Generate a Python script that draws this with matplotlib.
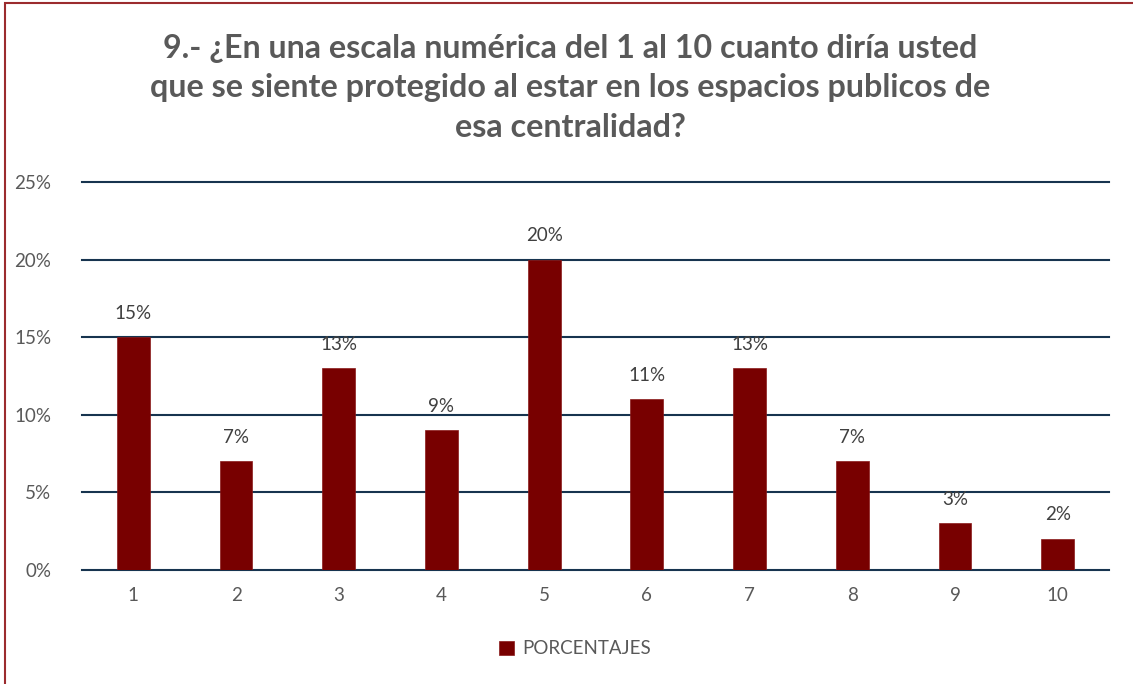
import matplotlib
matplotlib.use("Agg")
import matplotlib.pyplot as plt
from matplotlib.patches import Rectangle
from matplotlib.ticker import PercentFormatter

categories = ["1", "2", "3", "4", "5", "6", "7", "8", "9", "10"]
porcentajes = [15, 7, 13, 9, 20, 11, 13, 7, 3, 2]
y_ticks = [0, 5, 10, 15, 20, 25]
title = ("9.- ¿En una escala numérica del 1 al 10 cuanto diría usted\n"
         "que se siente protegido al estar en los espacios publicos de\n"
         "esa centralidad?")
series_name = "PORCENTAJES"

plt.rcParams['font.family'] = ['Lato', 'DejaVu Sans']

fig = plt.figure(figsize=(11.33, 6.84), dpi=100)
ax = fig.add_axes([82/1133, 1-570/684, (1109-82)/1133, (570-182)/684])

x = list(range(1, len(categories) + 1))
bars = ax.bar(x, porcentajes, width=0.32, color='#780000', edgecolor='#8a1a1a',
              linewidth=0.5, zorder=3, label=series_name)
for xi, v in zip(x, porcentajes):
    ax.text(xi, v + 1.0, f"{v}%", ha='center', va='bottom', fontsize=13.5,
            color='#404040')

ax.set_xlim(0.5, len(categories) + 0.5)
ax.set_ylim(0, 25)
ax.set_yticks(y_ticks)
ax.yaxis.set_major_formatter(PercentFormatter(decimals=0))
ax.set_xticks(x)
ax.set_xticklabels(categories)
ax.tick_params(axis='both', length=0, labelsize=13.5, colors='#595959')
ax.tick_params(axis='x', pad=12)
ax.tick_params(axis='y', pad=22)
ax.grid(axis='y', color='#17344F', linewidth=1.5, zorder=0)
for gl in ax.get_ygridlines():
    gl.set_clip_on(False)
for s in ax.spines.values():
    s.set_visible(False)

fig.text(570/1133, 1-88/684, title, ha='center', va='center', fontsize=23.2,
         fontweight='bold', color='#595959', linespacing=1.42)

leg = fig.legend(handles=[bars], labels=[series_name], loc='center',
                 bbox_to_anchor=(575/1133, 1-649/684), frameon=False,
                 fontsize=13.5, handlelength=0.8, handleheight=0.8,
                 handletextpad=0.4)
for t in leg.get_texts():
    t.set_color('#595959')

fig.patches.append(Rectangle((5/1133, -0.1), 1.2, 1-3/684 + 0.1,
                             transform=fig.transFigure, fill=False,
                             edgecolor='#9B2B2E', linewidth=1.5))

fig.savefig("out.png", dpi=100)
